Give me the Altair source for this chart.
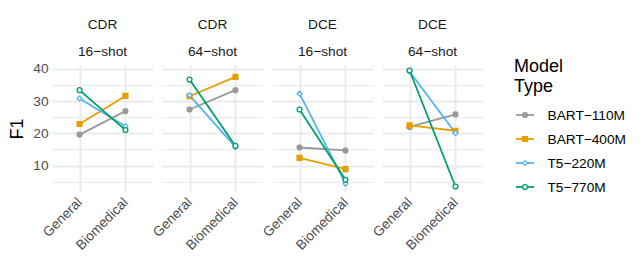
import altair as alt
import pandas as pd

datasets = ["CDR", "CDR", "DCE", "DCE"]
shots = ["16−shot", "64−shot", "16−shot", "64−shot"]
domains = ["General", "Biomedical"]
models = ["BART−110M", "BART−400M", "T5−220M", "T5−770M"]

# values per panel, (General, Biomedical) pairs
bart110 = [19.6, 26.9, 27.4, 33.4, 15.6, 14.7, 22.0, 25.9]
bart400 = [22.9, 31.6, 31.5, 37.5, 12.4, 8.9, 22.5, 20.8]
t5_220 = [30.8, 22.2, 31.8, 15.7, 32.3, 4.4, 39.2, 20.1]
t5_770 = [33.4, 21.0, 36.7, 16.1, 27.4, 5.6, 39.5, 3.5]

colors = ["#999999", "#E69F00", "#56B4E9", "#009E73"]
fills = ["#999999", "#E69F00", "white", "white"]
shapes = ["circle", "square", "diamond", "circle"]

rows = []
for m, vals in zip(models, [bart110, bart400, t5_220, t5_770]):
    for p in range(4):
        for d in range(2):
            rows.append({
                "panel": f"{p}|{datasets[p]}|{shots[p]}",
                "domain": domains[d],
                "model": m,
                "F1": vals[p * 2 + d],
            })
df = pd.DataFrame(rows)

FONT = "Liberation Sans"
SMALL = 13.7
BIG = 18

x_enc = alt.X("domain:N", sort=domains, scale=alt.Scale(type="point", padding=0.6),
              axis=alt.Axis(title=None, labelAngle=315, labelAlign="right", labelBaseline="middle",
                            labelFontSize=SMALL, labelColor="#4D4D4D", ticks=False, domain=False,
                            grid=True, gridColor="#EBEBEB", gridWidth=2, labelPadding=8))
y_enc = alt.Y("F1:Q", scale=alt.Scale(domain=[1.8, 41.2], nice=False, zero=False),
              axis=alt.Axis(values=[5, 10, 15, 20, 25, 30, 35, 40],
                            labelExpr="datum.value % 10 == 0 ? datum.label : ''",
                            ticks=False, domain=False, gridColor="#EBEBEB",
                            gridWidth={"condition": {"test": "datum.value % 10 == 0", "value": 2}, "value": 1},
                            labelColor="#4D4D4D", labelFontSize=SMALL, title="F1",
                            titleFontSize=BIG, titleFontWeight="normal", titleColor="black",
                            labelPadding=4, titlePadding=6))
color_enc = alt.Color("model:N", sort=models, scale=alt.Scale(domain=models, range=colors), legend=None)

base = alt.Chart(df)
lines = base.mark_line(strokeWidth=1.8).encode(x=x_enc, y=y_enc, color=color_enc, detail="model:N")
points = base.mark_point(size=24, strokeWidth=1.3, opacity=1).encode(
    x=x_enc, y=y_enc,
    stroke=alt.Stroke("model:N", scale=alt.Scale(domain=models, range=colors), legend=None),
    fill=alt.Fill("model:N", scale=alt.Scale(domain=models, range=fills), legend=None),
    shape=alt.Shape("model:N", scale=alt.Scale(domain=models, range=shapes), legend=None),
)

facet = alt.layer(lines, points).properties(width=101, height=127).facet(
    column=alt.Column("panel:N", sort=[f"{p}|{datasets[p]}|{shots[p]}" for p in range(4)],
                      header=alt.Header(title=None,
                                        labelExpr="slice(split(datum.value, '|'), 1)",
                                        labelFontSize=SMALL, labelColor="#1A1A1A", labelFont=FONT,
                                        labelLineHeight=27, labelPadding=6)),
    spacing=9,
)

# legend (drawn as a small chart to the right)
leg_df = pd.DataFrame({"model": models})
leg_y = alt.Y("model:N", sort=models, scale=alt.Scale(type="point", padding=0, range=[50, 122]),
              axis=alt.Axis(orient="right", title=["Model", "Type"], titleAngle=0,
                            titleAlign="left", titleBaseline="alphabetic",
                            titleX=-20.5, titleY=6, titleFontSize=BIG, titleFontWeight="normal",
                            titleColor="black", titleLineHeight=20,
                            ticks=False, domain=False, grid=False,
                            labelFontSize=SMALL, labelColor="black", labelPadding=13, labelAlign="left"))
leg_rule = alt.Chart(leg_df).mark_rule(strokeWidth=1.8).encode(
    x=alt.value(0), x2=alt.value(18), y=leg_y,
    color=alt.Color("model:N", scale=alt.Scale(domain=models, range=colors), legend=None))
leg_pt = alt.Chart(leg_df).mark_point(size=24, strokeWidth=1.3, opacity=1).encode(
    x=alt.value(9), y=leg_y,
    stroke=alt.Stroke("model:N", scale=alt.Scale(domain=models, range=colors), legend=None),
    fill=alt.Fill("model:N", scale=alt.Scale(domain=models, range=fills), legend=None),
    shape=alt.Shape("model:N", scale=alt.Scale(domain=models, range=shapes), legend=None),
)
legend = alt.layer(leg_rule, leg_pt).properties(width=18, height=134)

chart = alt.hconcat(facet, legend, spacing=30).properties(
    padding={"left": 0, "top": 10, "right": 5, "bottom": 0}
).configure(font=FONT).configure_view(stroke=None)

chart.save("out.html", embed_options={"renderer": "svg", "actions": False})
